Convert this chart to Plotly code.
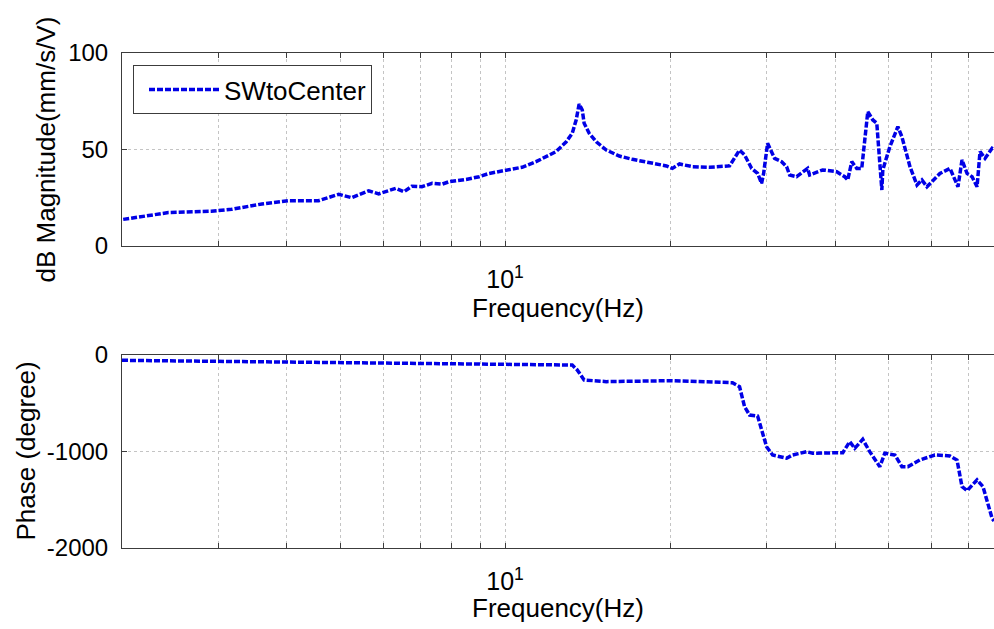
import math
import plotly.graph_objects as go

# ---- data ----
mag_freq = [2.01, 2.24, 2.43, 2.91, 3.17, 3.60, 4.03, 4.57, 4.97, 5.25,
            5.64, 5.88, 6.32, 6.54, 6.76, 7.05, 7.36, 7.67, 7.90, 8.49,
            8.97, 9.35, 10.04, 10.74, 11.39, 11.89, 12.39, 12.93, 13.26, 13.48,
            13.65, 13.83, 13.94, 14.24, 14.67, 15.30, 16.16, 17.07, 18.34, 19.70,
            20.20, 20.81, 21.98, 23.60, 25.68, 26.78, 27.35, 28.17, 28.89, 29.38,
            29.63, 30.13, 31.03, 31.96, 32.64, 33.05, 34.04, 34.91, 35.65, 35.95,
            37.97, 40.28, 41.66, 42.19, 42.91, 43.82, 44.75, 45.90, 46.88, 47.67,
            48.28, 48.69, 48.89, 50.35, 52.08, 52.97, 54.80, 56.44, 57.62, 58.85,
            62.15, 64.83, 67.05, 68.19, 69.65, 71.13, 72.64, 73.55, 75.12, 77.37,
            78.0]
mag_db = [13.8, 16.0, 17.3, 18.0, 19.0, 21.8, 23.5, 23.5, 26.8, 25.0,
          28.6, 27.0, 29.9, 28.1, 31.0, 30.7, 32.5, 32.0, 33.3, 34.5,
          35.9, 37.6, 39.4, 40.8, 43.7, 46.3, 48.9, 54.0, 58.4, 65.3,
          73.6, 70.5, 63.6, 58.4, 54.0, 49.7, 46.6, 44.9, 43.2, 41.5,
          40.2, 42.5, 41.1, 40.8, 41.5, 49.7, 47.2, 40.2, 37.6, 32.5,
          37.6, 53.2, 45.4, 43.7, 41.1, 36.8, 35.9, 38.5, 40.2, 36.8,
          39.4, 38.5, 35.9, 34.2, 43.7, 40.2, 40.2, 69.6, 65.3, 63.6,
          42.8, 29.0, 39.4, 51.4, 61.8, 56.6, 41.1, 31.6, 34.2, 30.7,
          37.6, 40.2, 30.7, 44.6, 37.6, 35.9, 30.7, 48.9, 45.4, 50.6,
          50.0]

phase_freq = [2.0, 2.5, 3.0, 4.0, 5.0, 6.0, 7.0, 8.0, 9.0, 10.0,
              11.54, 13.26, 13.54, 13.94, 15.30, 20.20,
              26.0, 26.78, 27.35, 27.93, 28.89, 29.38, 30.0, 30.77,
              32.64, 33.47, 35.5, 36.42, 39.61, 41.32, 42.55, 43.45, 44.94, 46.28,
              48.28, 49.30, 51.43, 52.97, 54.33, 57.14, 60.85, 64.83, 66.77, 68.19,
              69.65, 72.64, 74.47, 76.07, 77.37, 78.0]
phase_deg = [-55, -60, -68, -74, -80, -84, -88, -90, -93, -95,
             -93, -104, -155, -259, -276, -266,
             -287, -328, -535, -622, -632, -777, -950, -1036,
             -1070, -1036, -1002, -1018, -1012, -1012, -898, -967, -874, -1002,
             -1157, -1018, -1036, -1157, -1157, -1088, -1036, -1046, -1088, -1364,
             -1406, -1295, -1364, -1536, -1692, -1720]

series_name = "SWtoCenter"
x_major_vals = [10]
x_major_text = ["10<sup>1</sup>"]
x_minor_vals = [2, 3, 4, 5, 6, 7, 8, 9, 20, 30, 40, 50, 60, 70]
mag_ticks = [0, 50, 100]
phase_ticks = [-2000, -1000, 0]
phase_tick_text = ["-2000", "-1000", "0"]

W, H = 994, 629
FONT = "Arial, Liberation Sans, sans-serif"
BLUE = "#0000E6"
AX = "#3c3c3c"
GRID = "#c4c4c4"

fig = go.Figure()
fig.add_trace(go.Scatter(x=mag_freq, y=mag_db, mode="lines", name=series_name,
                         line=dict(color=BLUE, width=3.5, dash="6px,2px"),
                         xaxis="x", yaxis="y", showlegend=True))
fig.add_trace(go.Scatter(x=phase_freq, y=phase_deg, mode="lines", name=series_name,
                         line=dict(color=BLUE, width=3.5, dash="6px,2px"),
                         xaxis="x2", yaxis="y2", showlegend=False))

xl = 122 / W
def ydom(top, bot):
    return [1 - bot / H, 1 - top / H]

xcommon = dict(type="log", range=[math.log10(2.0), math.log10(78.0)],
               domain=[xl, 1], tickmode="array", tickvals=x_major_vals,
               ticktext=x_major_text, ticks="inside", ticklen=5, tickcolor=AX,
               showline=True, linecolor=AX, linewidth=1, mirror="ticks",
               showgrid=True, gridcolor=GRID, griddash="dot", gridwidth=1,
               minor=dict(tickmode="array", tickvals=x_minor_vals, ticks="inside",
                          ticklen=5, tickcolor=AX, showgrid=True, gridcolor=GRID,
                          griddash="dot", gridwidth=1),
               zeroline=False, automargin=False, ticklabelstandoff=11,
               tickfont=dict(family=FONT, size=25, color="#000"))

fig.update_layout(
    width=W, height=H, margin=dict(l=0, r=0, t=0, b=0),
    paper_bgcolor="white", plot_bgcolor="white",
    xaxis=dict(anchor="y", **xcommon),
    xaxis2=dict(anchor="y2", **xcommon),
    yaxis=dict(anchor="x", domain=ydom(53, 246), range=[0, 100],
               tickmode="array", tickvals=mag_ticks, ticks="inside", ticklen=5,
               tickcolor=AX, showline=True, linecolor=AX, linewidth=1,
               showgrid=True, gridcolor=GRID, griddash="dot", zeroline=False,
               automargin=False, ticklabelstandoff=8,
               tickfont=dict(family=FONT, size=24, color="#000")),
    yaxis2=dict(anchor="x2", domain=ydom(355, 548), range=[-2000, 0],
                tickmode="array", tickvals=phase_ticks, ticktext=phase_tick_text,
                ticks="inside", ticklen=5,
                tickcolor=AX, showline=True, linecolor=AX, linewidth=1,
                showgrid=True, gridcolor=GRID, griddash="dot", zeroline=False,
                automargin=False, ticklabelstandoff=8,
                tickfont=dict(family=FONT, size=24, color="#000")),
    legend=dict(x=133 / W, y=1 - 65 / H, xanchor="left", yanchor="top",
                bgcolor="white", bordercolor=AX, borderwidth=1,
                font=dict(family=FONT, size=26, color="#000"),
                itemwidth=70, indentation=10, tracegroupgap=0),
    font=dict(family=FONT, color="#000"),
)

cx = (xl + 1) / 2
annos = [
    dict(text="Frequency(Hz)", x=cx, y=1 - 308 / H),
    dict(text="Frequency(Hz)", x=cx, y=1 - 608 / H),
    dict(text="dB Magnitude(mm/s/V)", x=45 / W, y=1 - 149.5 / H, textangle=-90),
    dict(text="Phase (degree)", x=25 / W, y=1 - 451.5 / H, textangle=-90),
]
for a in annos:
    fig.add_annotation(xref="paper", yref="paper", showarrow=False,
                       xanchor="center", yanchor="middle",
                       font=dict(family=FONT, size=26, color="#000"), **a)

fig.write_html("out.html")
